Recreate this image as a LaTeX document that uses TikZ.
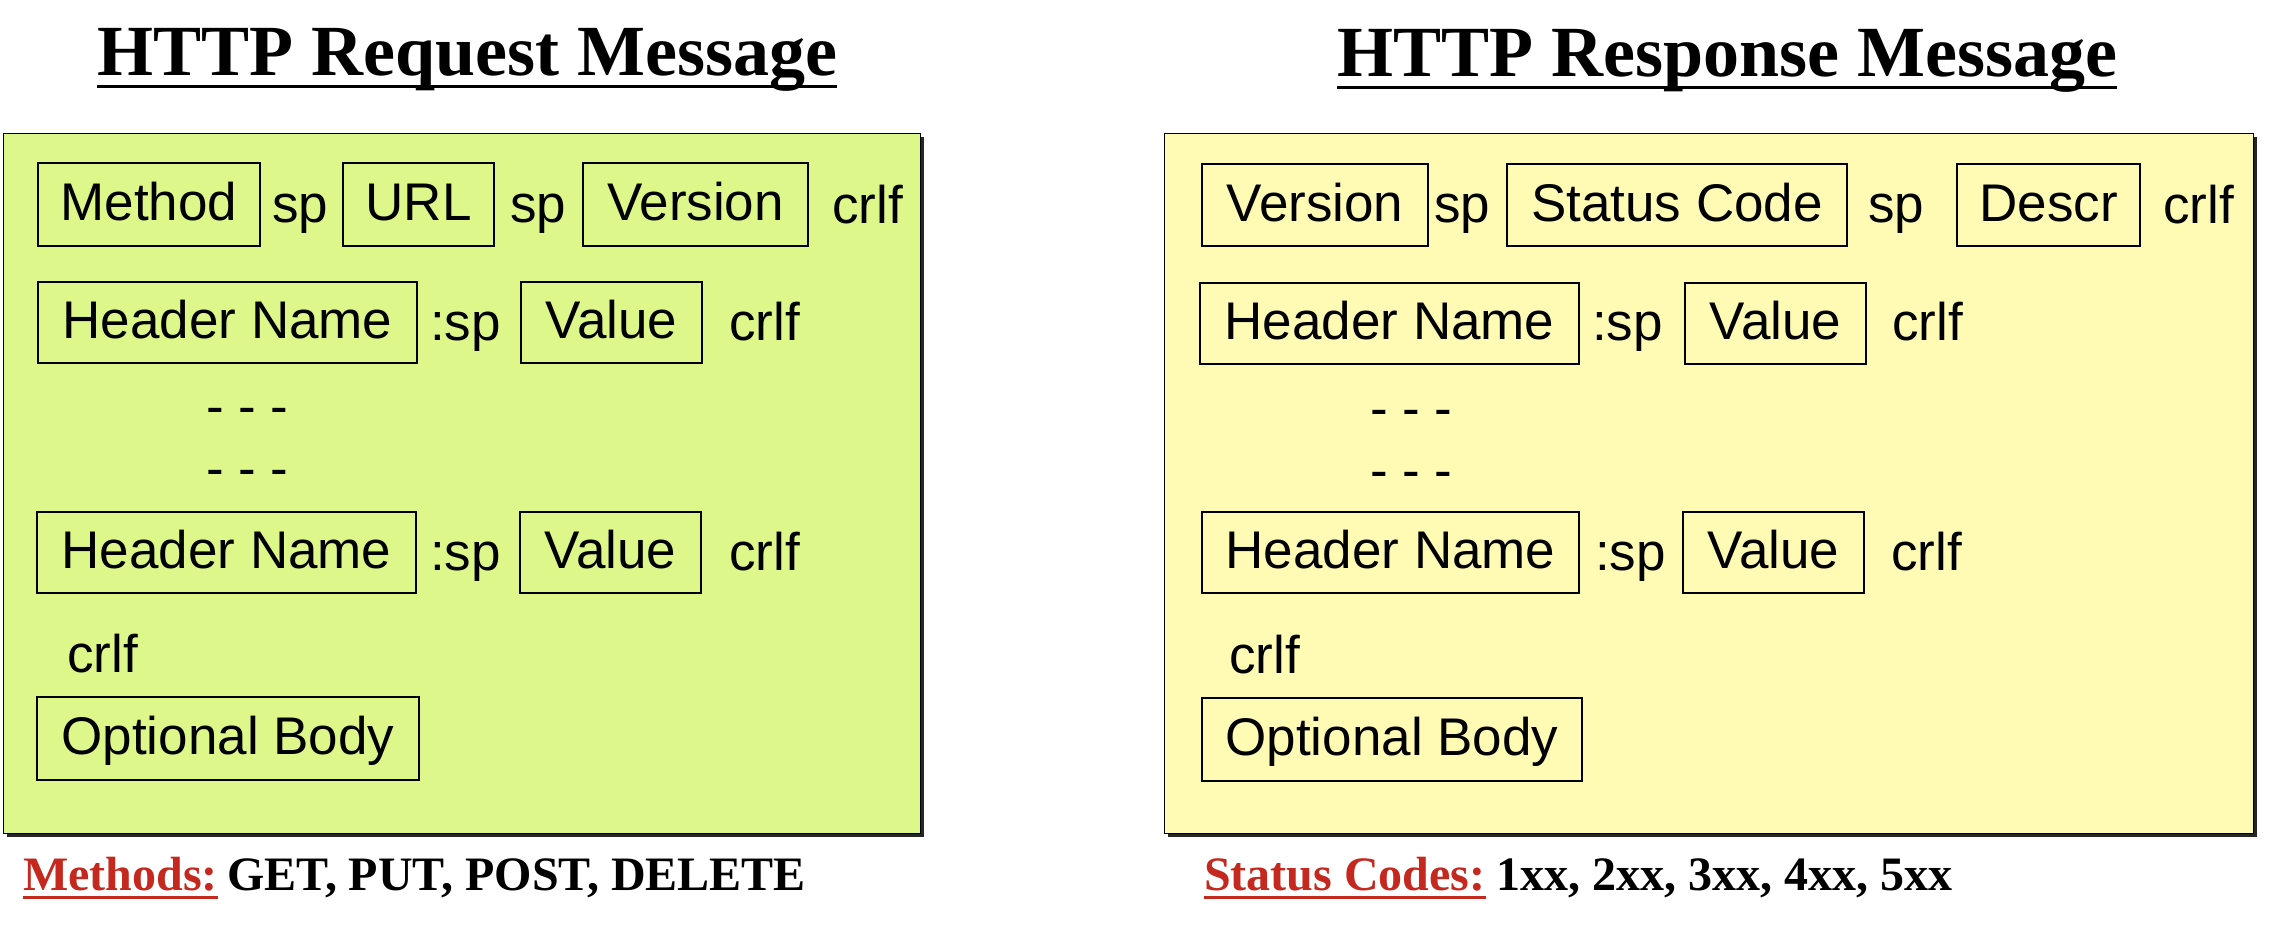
\documentclass[tikz,border=0pt]{standalone}
\usepackage{fontspec}
\setmainfont{Liberation Serif}
\newfontfamily\arialfont{Liberation Sans}
\usetikzlibrary{shadows}
\definecolor{reqfill}{RGB}{221,247,139}
\definecolor{respfill}{RGB}{255,251,181}
\definecolor{labelred}{RGB}{196,40,30}
\begin{document}
\begin{tikzpicture}[x=1pt,y=-1pt,
  panel/.style={draw=black,line width=1.2pt,anchor=north west,inner sep=0pt,
    drop shadow={shadow xshift=3pt,shadow yshift=-3pt,fill=black!85,opacity=1}},
  field/.style={draw=black,line width=2pt,inner sep=0pt,
    font=\arialfont\fontsize{53}{60}\selectfont,text height=32pt,text depth=0pt},
  lbl/.style={inner sep=0pt,anchor=base west,font=\arialfont\fontsize{53}{60}\selectfont},
  title/.style={inner sep=0pt,anchor=base west,font=\bfseries\fontsize{72}{80}\selectfont},
  note/.style={inner sep=0pt,anchor=base west,font=\bfseries\fontsize{48}{54}\selectfont},
  uline/.style={line width=3pt}]
\useasboundingbox (0,0) rectangle (2274,924);

% ---------- request side ----------
\node[title] (reqtitle) at (97,75) {HTTP Request Message};
\draw[uline] ([yshift=-11pt]reqtitle.base west) -- ([yshift=-11pt]reqtitle.base east);

\node[panel,fill=reqfill,minimum width=917pt,minimum height=700pt] (reqpanel) at (3,133) {};

\node[field,minimum width=222pt,minimum height=83pt] (method) at (149,204.5) {Method};
\node[lbl] (rqsp1) at (272,222) {sp};
\node[field,minimum width=151pt,minimum height=83pt] (url) at (418.5,204.5) {URL};
\node[lbl] (rqsp2) at (510,222) {sp};
\node[field,minimum width=225pt,minimum height=83pt] (rqversion) at (695.5,204.5) {Version};
\node[lbl] (rqcrlf1) at (832,223) {crlf};

\node[field,minimum width=379pt,minimum height=81pt] (rqhname1) at (227.5,322.5) {Header Name};
\node[lbl] (rqcolsp1) at (430,340) {:sp};
\node[field,minimum width=181pt,minimum height=81pt] (rqvalue1) at (611.5,322.5) {Value};
\node[lbl] (rqcrlf2) at (729,340) {crlf};

\node[lbl] (rqdots1) at (206,424) {- - -};
\node[lbl] (rqdots2) at (206,486) {- - -};

\node[field,minimum width=379pt,minimum height=81pt] (rqhname2) at (226.5,552.5) {Header Name};
\node[lbl] (rqcolsp2) at (430,570) {:sp};
\node[field,minimum width=181pt,minimum height=81pt] (rqvalue2) at (610.5,552.5) {Value};
\node[lbl] (rqcrlf3) at (729,570) {crlf};

\node[lbl] (rqcrlf4) at (67,672) {crlf};
\node[field,minimum width=382pt,minimum height=83pt] (rqbody) at (228,738.5) {Optional Body};

\node[note,text=labelred] (methodslbl) at (23,890) {Methods:};
\draw[uline,labelred] ([yshift=-7pt]methodslbl.base west) -- ([yshift=-7pt]methodslbl.base east);
\node[note] (methodslist) at (227,890) {GET, PUT, POST, DELETE};

% ---------- response side ----------
\node[title] (resptitle) at (1337,76) {HTTP Response Message};
\draw[uline] ([yshift=-11pt]resptitle.base west) -- ([yshift=-11pt]resptitle.base east);

\node[panel,fill=respfill,minimum width=1089pt,minimum height=700pt] (resppanel) at (1164,133) {};

\node[field,minimum width=226pt,minimum height=82pt] (rsversion) at (1315,205) {Version};
\node[lbl] (rssp1) at (1434,222) {sp};
\node[field,minimum width=340pt,minimum height=82pt] (status) at (1677,205) {Status Code};
\node[lbl] (rssp2) at (1868,222) {sp};
\node[field,minimum width=183pt,minimum height=82pt] (descr) at (2048.5,205) {Descr};
\node[lbl] (rscrlf1) at (2163,223) {crlf};

\node[field,minimum width=379pt,minimum height=81pt] (rshname1) at (1389.5,323.5) {Header Name};
\node[lbl] (rscolsp1) at (1592,340) {:sp};
\node[field,minimum width=181pt,minimum height=81pt] (rsvalue1) at (1775.5,323.5) {Value};
\node[lbl] (rscrlf2) at (1892,340) {crlf};

\node[lbl] (rsdots1) at (1370,426) {- - -};
\node[lbl] (rsdots2) at (1370,488) {- - -};

\node[field,minimum width=377pt,minimum height=81pt] (rshname2) at (1390.5,552.5) {Header Name};
\node[lbl] (rscolsp2) at (1595,570) {:sp};
\node[field,minimum width=181pt,minimum height=81pt] (rsvalue2) at (1773.5,552.5) {Value};
\node[lbl] (rscrlf3) at (1891,570) {crlf};

\node[lbl] (rscrlf4) at (1229,673) {crlf};
\node[field,minimum width=380pt,minimum height=83pt] (rsbody) at (1392,739.5) {Optional Body};

\node[note,text=labelred] (codeslbl) at (1204,890) {Status Codes:};
\draw[uline,labelred] ([yshift=-7pt]codeslbl.base west) -- ([yshift=-7pt]codeslbl.base east);
\node[note] (codeslist) at (1496,890) {1xx, 2xx, 3xx, 4xx, 5xx};
\end{tikzpicture}
\end{document}
